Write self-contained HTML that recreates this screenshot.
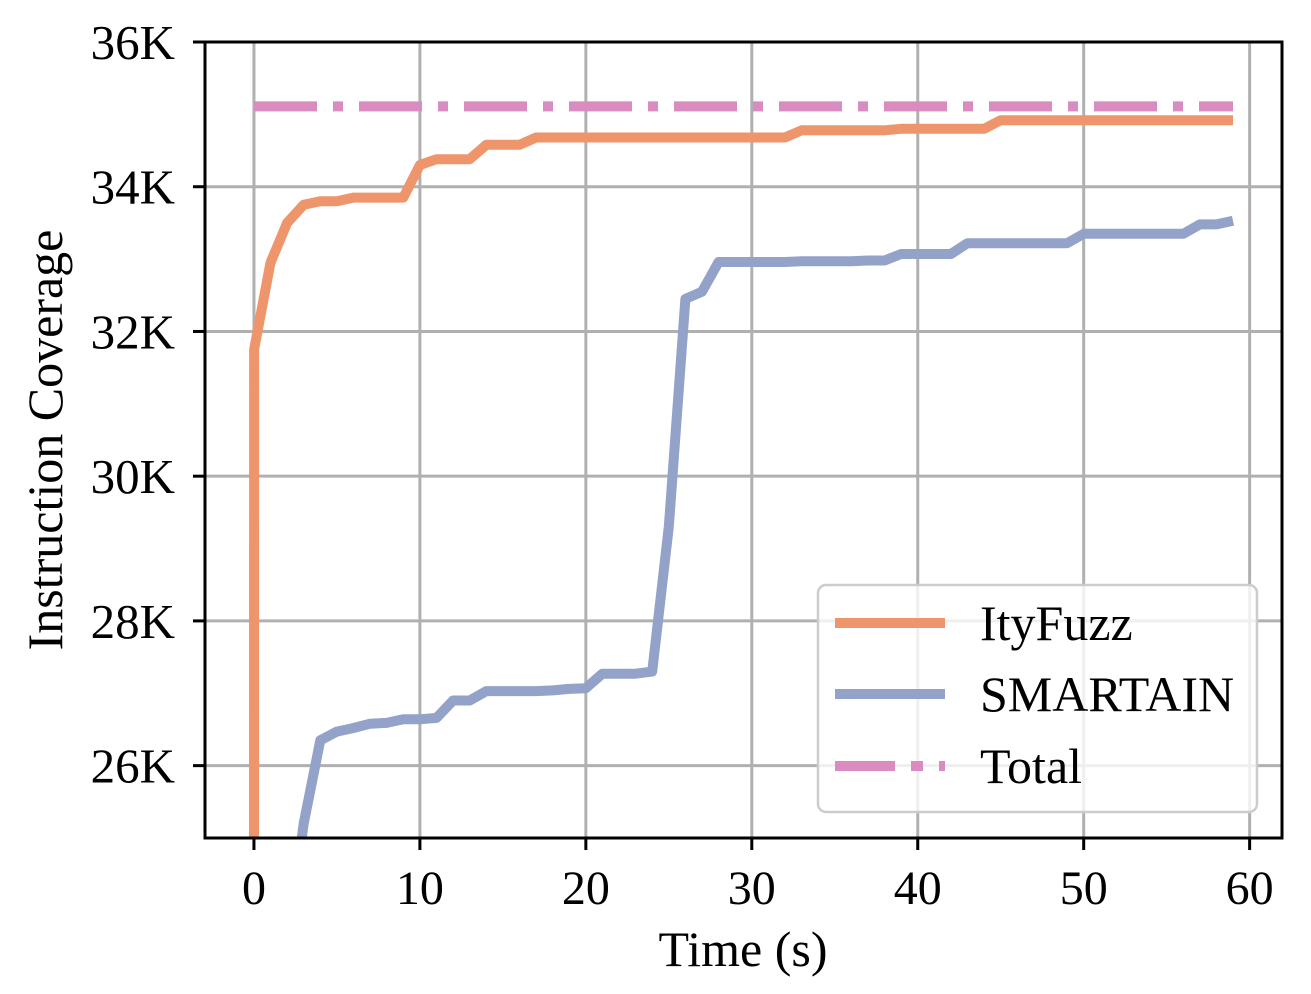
<!DOCTYPE html>
<html><head><meta charset="utf-8"><style>
html,body{margin:0;padding:0;background:#fff;overflow:hidden;width:1311px;height:994px;}
svg{display:block;font-family:"Liberation Serif",serif;}
</style></head><body>
<svg id="chart" width="1311" height="994" viewBox="0 0 1311 994" xmlns="http://www.w3.org/2000/svg">
<defs><clipPath id="clip"><rect x="205" y="42" width="1077" height="796"/></clipPath></defs>
<g id="grid"></g>
<g id="series" clip-path="url(#clip)"></g>
<rect x="205" y="42" width="1077" height="796" fill="none" stroke="#000" stroke-width="3"/>
<g id="ticks"></g>
<text x="743" y="966" font-size="50" text-anchor="middle">Time (s)</text>
<text transform="translate(62,440) rotate(-90)" font-size="50" text-anchor="middle">Instruction Coverage</text>
<g>
<rect x="818" y="585" width="439" height="227" rx="8" fill="#fff" fill-opacity="0.8" stroke="#ccc" stroke-width="2.5"/>
<line x1="835" y1="623" x2="945" y2="623" stroke="#ee956b" stroke-width="10"/>
<text x="980" y="640" font-size="50">ItyFuzz</text>
<line x1="835" y1="694" x2="945" y2="694" stroke="#93a2c9" stroke-width="10"/>
<text x="980" y="711" font-size="50">SMARTAIN</text>
<line x1="835" y1="766" x2="945" y2="766" stroke="#da8bc0" stroke-width="10" stroke-dasharray="60,16,12,16"/>
<text x="980" y="783" font-size="50">Total</text>
</g>
</svg>
<script>
const ityTimes = [0,0.01,1,2,3,4,5,6,7,8,9,10,11,12,13,14,15,16,17,18,19,20,21,22,23,24,25,26,27,28,29,30,31,32,33,34,35,36,37,38,39,40,41,42,43,44,45,46,47,48,49,50,51,52,53,54,55,56,57,58,59];
const ityValues = [20000,31750,32950,33500,33750,33800,33800,33850,33850,33850,33850,34300,34380,34380,34380,34580,34580,34580,34680,34680,34680,34680,34680,34680,34680,34680,34680,34680,34680,34680,34680,34680,34680,34680,34780,34780,34780,34780,34780,34780,34800,34800,34800,34800,34800,34800,34920,34920,34920,34920,34920,34920,34920,34920,34920,34920,34920,34920,34920,34920,34920];
const smartTimes = [2,3,4,5,6,7,8,9,10,11,12,13,14,15,16,17,18,19,20,21,22,23,24,25,26,27,28,29,30,31,32,33,34,35,36,37,38,39,40,41,42,43,44,45,46,47,48,49,50,51,52,53,54,55,56,57,58,59];
const smartValues = [23500,25200,26350,26470,26520,26580,26590,26640,26640,26660,26900,26900,27030,27030,27030,27030,27040,27060,27070,27270,27270,27270,27300,29300,32450,32550,32960,32960,32960,32960,32960,32970,32970,32970,32970,32980,32980,33070,33070,33070,33070,33220,33220,33220,33220,33220,33220,33220,33350,33350,33350,33350,33350,33350,33350,33480,33480,33530];
const totalTimes = [0,59];
const totalValues = [35110,35110];
const xTicks = [0,10,20,30,40,50,60];
const yTicks = [26000,28000,30000,32000,34000,36000];
const yTickLabels = ["26K","28K","30K","32K","34K","36K"];

const X0=205,X1=1282,Y0=838,Y1=42, xmin=-2.95,xmax=61.95,ymin=25000,ymax=36000;
const sx=v=>X0+(v-xmin)/(xmax-xmin)*(X1-X0);
const sy=v=>Y0-(v-ymin)/(ymax-ymin)*(Y0-Y1);
const NS="http://www.w3.org/2000/svg";
const grid=document.getElementById('grid'), ticks=document.getElementById('ticks'), series=document.getElementById('series');
function mk(tag,attrs,parent){const e=document.createElementNS(NS,tag);for(const k in attrs)e.setAttribute(k,attrs[k]);parent.appendChild(e);return e;}
xTicks.forEach(t=>{
  const x=sx(t);
  const g=mk('line',{x1:x,x2:x,y1:Y1,y2:Y0,stroke:'#b0b0b0','stroke-width':3},grid);
  
  
  const tk=mk('line',{x1:x,x2:x,y1:Y0,y2:Y0+12,stroke:'#000','stroke-width':3},ticks);
  
  
  const lb=mk('text',{x:x,y:Y0+66,'font-size':48,'text-anchor':'middle'},ticks);
  lb.textContent=t;
  
  
});
yTicks.forEach((t,i)=>{
  const y=sy(t);
  const g=mk('line',{x1:X0,x2:X1,y1:y,y2:y,stroke:'#b0b0b0','stroke-width':3},grid);
  
  
  const tk=mk('line',{x1:X0-12,x2:X0,y1:y,y2:y,stroke:'#000','stroke-width':3},ticks);
  
  
  const lb=mk('text',{x:X0-30,y:y+17,'font-size':49,'text-anchor':'end'},ticks);
  lb.textContent=yTickLabels[i];
  
  
});
function line(ts,vs,color,dash,name){
  const pts=ts.map((t,i)=>sx(t).toFixed(1)+','+sy(vs[i]).toFixed(1)).join(' ');
  const p=mk('polyline',{points:pts,fill:'none',stroke:color,'stroke-width':10,'stroke-linejoin':'round'},series);
  if(dash)p.setAttribute('stroke-dasharray',dash);
  
  
}
line(totalTimes,totalValues,'#da8bc0','63,16,10,16','total-line');
line(smartTimes,smartValues,'#93a2c9',null,'smartain-line');
line(ityTimes,ityValues,'#ee956b',null,'ityfuzz-line');
</script>
</body></html>
